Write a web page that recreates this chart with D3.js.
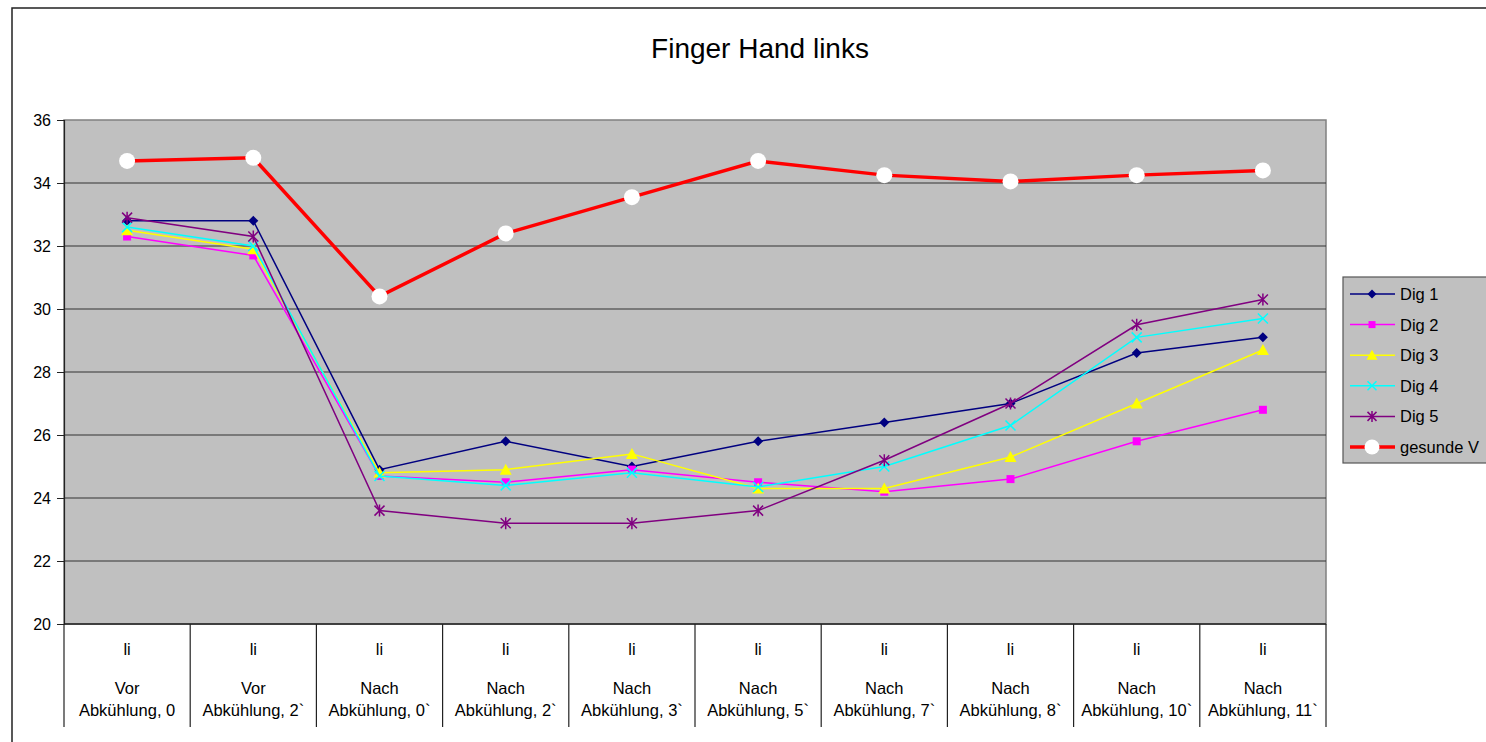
<!DOCTYPE html>
<html>
<head>
<meta charset="utf-8">
<script src="https://cdn.jsdelivr.net/npm/d3@7"></script>
<style>
  body { margin: 0; background: #fff; }
  svg { display: block; font-family: "Liberation Sans", Arial, sans-serif; }
</style>
</head>
<body>
<svg id="chart" width="1486" height="742"></svg>
<script>
// category labels (3 lines each)
var catTop = ["li", "li", "li", "li", "li", "li", "li", "li", "li", "li"];
var catMid = ["Vor", "Vor", "Nach", "Nach", "Nach", "Nach", "Nach", "Nach", "Nach", "Nach"];
var catBot = ["Abkühlung, 0", "Abkühlung, 2`", "Abkühlung, 0`", "Abkühlung, 2`", "Abkühlung, 3`",
              "Abkühlung, 5`", "Abkühlung, 7`", "Abkühlung, 8`", "Abkühlung, 10`", "Abkühlung, 11`"];

var dig1 = [32.8, 32.8, 24.9, 25.8, 25.0, 25.8, 26.4, 27.0, 28.6, 29.1];
var dig2 = [32.3, 31.7, 24.7, 24.5, 24.9, 24.5, 24.2, 24.6, 25.8, 26.8];
var dig3 = [32.5, 31.9, 24.8, 24.9, 25.4, 24.3, 24.3, 25.3, 27.0, 28.7];
var dig4 = [32.6, 32.0, 24.7, 24.4, 24.8, 24.35, 25.0, 26.3, 29.1, 29.7];
var dig5 = [32.9, 32.3, 23.6, 23.2, 23.2, 23.6, 25.2, 27.0, 29.5, 30.3];
var gesunde = [34.7, 34.8, 30.4, 32.4, 33.55, 34.7, 34.25, 34.05, 34.25, 34.4];

var yTicks = [20, 22, 24, 26, 28, 30, 32, 34, 36];

var series = [
  { name: "Dig 1", values: dig1, color: "#000080", marker: "diamond", width: 1.5 },
  { name: "Dig 2", values: dig2, color: "#FF00FF", marker: "square", width: 1.5 },
  { name: "Dig 3", values: dig3, color: "#FFFF00", marker: "triangle", width: 1.5 },
  { name: "Dig 4", values: dig4, color: "#00FFFF", marker: "x", width: 1.5 },
  { name: "Dig 5", values: dig5, color: "#800080", marker: "star", width: 1.5 },
  { name: "gesunde V", values: gesunde, color: "#FF0000", marker: "circle", width: 3.5 }
];

var svg = d3.select("#chart");
var plot = { left: 64, top: 120, right: 1326, bottom: 624 };

// outer chart border (extends past window on right/bottom)
svg.append("rect")
  .attr("x", 12).attr("y", 8)
  .attr("width", 1600).attr("height", 800)
  .attr("fill", "#fff").attr("stroke", "#222").attr("stroke-width", 1.5);

svg.append("text")
  .attr("x", 760).attr("y", 58)
  .attr("text-anchor", "middle")
  .attr("font-size", 28)
  .text("Finger Hand links");

var xScale = d3.scaleBand()
  .domain(d3.range(catTop.length))
  .range([plot.left, plot.right])
  .padding(0);
var yScale = d3.scaleLinear().domain([20, 36]).range([plot.bottom, plot.top]);

// plot background
svg.append("rect")
  .attr("x", plot.left).attr("y", plot.top)
  .attr("width", plot.right - plot.left).attr("height", plot.bottom - plot.top)
  .attr("fill", "#C0C0C0").attr("stroke", "#808080").attr("stroke-width", 1.5);

// gridlines
svg.append("g").selectAll("line")
  .data(yTicks.filter(function (d) { return d > 20 && d < 36; }))
  .enter().append("line")
  .attr("x1", plot.left).attr("x2", plot.right)
  .attr("y1", function (d) { return yScale(d); })
  .attr("y2", function (d) { return yScale(d); })
  .attr("stroke", "#333").attr("stroke-width", 1.2);

// y axis
var yAxis = d3.axisLeft(yScale).tickValues(yTicks).tickSize(7).tickPadding(6);
var yg = svg.append("g")
  .attr("transform", "translate(" + plot.left + ",0)")
  .call(yAxis);
yg.select(".domain").attr("stroke", "#222").attr("stroke-width", 1.2);
yg.selectAll(".tick line").attr("stroke", "#222");
yg.selectAll(".tick text")
  .attr("font-size", 16).attr("fill", "#000")
  .attr("font-family", "Liberation Sans, Arial, sans-serif");

// x axis line + category dividers
svg.append("line")
  .attr("x1", plot.left).attr("x2", plot.right)
  .attr("y1", plot.bottom).attr("y2", plot.bottom)
  .attr("stroke", "#222").attr("stroke-width", 1.5);
var bounds = d3.range(catTop.length + 1).map(function (i) {
  return i < catTop.length ? xScale(i) : xScale(i - 1) + xScale.bandwidth();
});
svg.append("g").selectAll("line")
  .data(bounds)
  .enter().append("line")
  .attr("x1", function (d) { return d; }).attr("x2", function (d) { return d; })
  .attr("y1", plot.bottom).attr("y2", 727)
  .attr("stroke", "#222").attr("stroke-width", 1.2);

var labels = svg.append("g").attr("font-size", 16.5).attr("text-anchor", "middle");
catTop.forEach(function (t, i) {
  var cx = xScale(i) + xScale.bandwidth() / 2;
  labels.append("text").attr("x", cx).attr("y", 655).text(t);
  labels.append("text").attr("x", cx).attr("y", 694).text(catMid[i]);
  labels.append("text").attr("x", cx).attr("y", 716).text(catBot[i]);
});

function drawMarker(g, type, color, size) {
  var s = size;
  if (type === "diamond") {
    g.append("path").attr("d", "M0," + (-s) + "L" + s + ",0L0," + s + "L" + (-s) + ",0Z").attr("fill", color);
  } else if (type === "square") {
    g.append("rect").attr("x", -s + 1).attr("y", -s + 1).attr("width", 2 * s - 2).attr("height", 2 * s - 2).attr("fill", color);
  } else if (type === "triangle") {
    g.append("path").attr("d", "M0," + (-s - 1) + "L" + (s + 1) + "," + (s) + "L" + (-s - 1) + "," + (s) + "Z").attr("fill", color);
  } else if (type === "x") {
    g.append("path").attr("d", "M" + (-s) + "," + (-s) + "L" + s + "," + s + "M" + s + "," + (-s) + "L" + (-s) + "," + s)
      .attr("stroke", color).attr("stroke-width", 1.5).attr("fill", "none");
  } else if (type === "star") {
    g.append("path").attr("d", "M" + (-s) + "," + (-s) + "L" + s + "," + s + "M" + s + "," + (-s) + "L" + (-s) + "," + s +
      "M0," + (-s - 1) + "L0," + (s + 1))
      .attr("stroke", color).attr("stroke-width", 1.5).attr("fill", "none");
  } else if (type === "circle") {
    g.append("circle").attr("r", s + 3).attr("fill", "#fff");
  }
}

var line = d3.line()
  .x(function (d, i) { return xScale(i) + xScale.bandwidth() / 2; })
  .y(function (d) { return yScale(d); });

series.forEach(function (s) {
  var g = svg.append("g");
  g.append("path")
    .attr("d", line(s.values))
    .attr("fill", "none")
    .attr("stroke", s.color)
    .attr("stroke-width", s.width);
  s.values.forEach(function (v, i) {
    var mg = g.append("g")
      .attr("transform", "translate(" + (xScale(i) + xScale.bandwidth() / 2) + "," + yScale(v) + ")");
    drawMarker(mg, s.marker, s.color, 5);
  });
});

// legend
var legend = svg.append("g");
legend.append("rect")
  .attr("x", 1343).attr("y", 277).attr("width", 200).attr("height", 186)
  .attr("fill", "#C0C0C0").attr("stroke", "#555").attr("stroke-width", 1.2);
series.forEach(function (s, i) {
  var y = 294 + i * 30.6;
  legend.append("line")
    .attr("x1", 1350).attr("x2", 1395).attr("y1", y).attr("y2", y)
    .attr("stroke", s.color).attr("stroke-width", s.width);
  var mg = legend.append("g").attr("transform", "translate(1372," + y + ")");
  drawMarker(mg, s.marker, s.color, 4.5);
  legend.append("text")
    .attr("x", 1400).attr("y", y + 6)
    .attr("font-size", 16.5)
    .text(s.name);
});
</script>
</body>
</html>
